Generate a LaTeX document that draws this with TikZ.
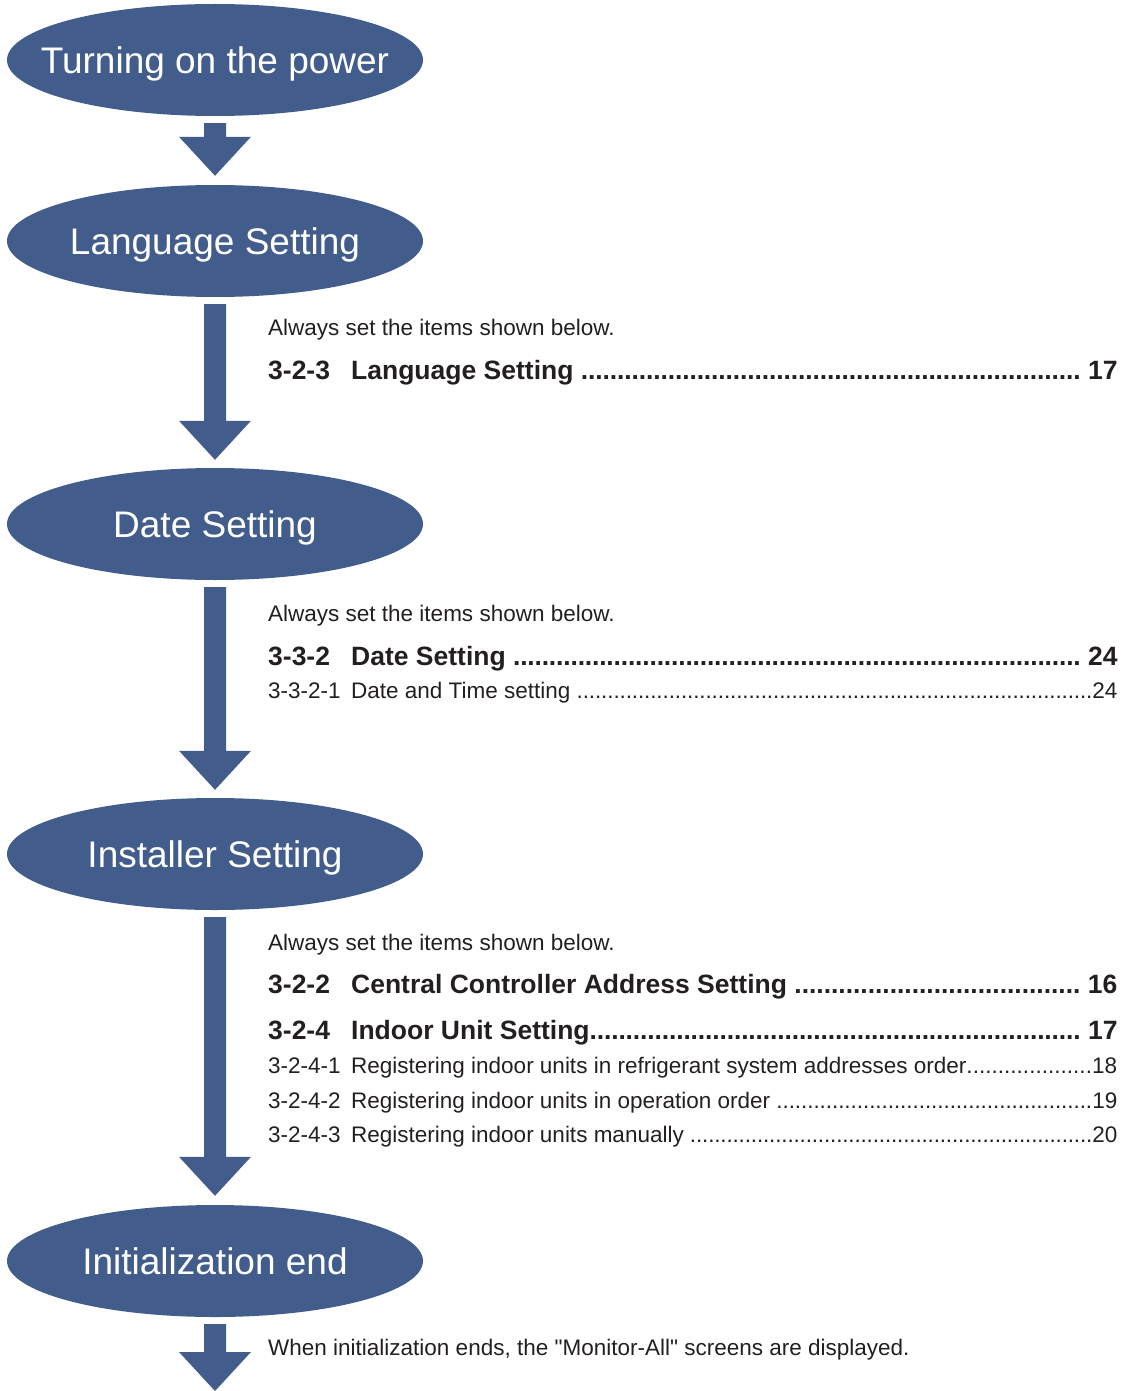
\documentclass[tikz,border=0pt]{standalone}
\usepackage{fontspec}
\setmainfont{Liberation Sans}
\usetikzlibrary{shapes.geometric}
\usetikzlibrary{calc}
\usetikzlibrary{positioning}

\definecolor{flowblue}{RGB}{66,93,139}
\definecolor{inkgray}{RGB}{35,31,32}

\newcommand{\leaderdots}{\xleaders\hbox to 0.27em{\hss.\hss}\hfill}
\newcommand{\tocrow}[3]{\hbox to 849pt{\makebox[83pt][l]{#1}#2\leaderdots#3}}
\newcommand{\stagetext}[1]{\makebox[0pt]{#1}}
\newcommand{\flowarrow}[2]{%
  \fill[flowblue] let \p1=(#1), \p2=(#2) in
    (\x1-11pt,\y1) -- (\x1+11pt,\y1) -- (\x1+11pt,\y2+39pt) -- (\x1+36pt,\y2+39pt)
    -- (\x1,\y2) -- (\x1-36pt,\y2+39pt) -- (\x1-11pt,\y2+39pt) -- cycle;}

\tikzset{
  stage/.style={ellipse, fill=flowblue, text=white, minimum width=416pt,
    minimum height=112pt, inner sep=0pt, text height=26.5pt, text depth=0pt,
    font=\fontsize{37}{40}\selectfont},
  note/.style={anchor=base west, inner sep=0pt, text=inkgray,
    font=\fontsize{22.5}{26}\selectfont},
  mainitem/.style={note, font=\fontsize{26.5}{30}\selectfont\bfseries},
  subitem/.style={note}
}

\begin{document}
\begin{tikzpicture}
    \useasboundingbox (0,0) rectangle (1131pt,-1391pt);

    % Stages
    \node[stage] (power) at (215pt,-60pt) {\stagetext{Turning on the power}};
    \node[stage] (lang) at (215pt,-241pt) {\stagetext{Language Setting}};
    \node[stage] (date) at (215pt,-524pt) {\stagetext{Date Setting}};
    \node[stage] (inst) at (215pt,-854pt) {\stagetext{Installer Setting}};
    \node[stage] (initend) at (215pt,-1261pt) {\stagetext{Initialization end}};
    \coordinate (flowend) at (215pt,-1391pt);

    % Arrows
    \flowarrow{[yshift=-7pt]power.south}{[yshift=9pt]lang.north}
    \flowarrow{[yshift=-7pt]lang.south}{[yshift=8pt]date.north}
    \flowarrow{[yshift=-7pt]date.south}{[yshift=8pt]inst.north}
    \flowarrow{[yshift=-7pt]inst.south}{[yshift=9pt]initend.north}
    \flowarrow{[yshift=-7pt]initend.south}{flowend}

    % Language Setting
    \node[note] (langnote) at (268pt,-335pt) {Always set the items shown below.};
    \node[mainitem] (langitem) at (268pt,-379pt) {\tocrow{3-2-3}{Language Setting\ }{\ 17}};

    % Date Setting
    \node[note] (datenote) at (268pt,-621pt) {Always set the items shown below.};
    \node[mainitem] (dateitem) at (268pt,-665pt) {\tocrow{3-3-2}{Date Setting\ }{\ 24}};
    \node[subitem] (datesub) at (268pt,-698pt) {\tocrow{3-3-2-1}{Date and Time setting\ }{24}};

    % Installer Setting
    \node[note] (instnote) at (268pt,-950pt) {Always set the items shown below.};
    \node[mainitem] (institem) at (268pt,-993pt) {\tocrow{3-2-2}{Central Controller Address Setting\ }{\ 16}};
    \node[mainitem] (unititem) at (268pt,-1039pt) {\tocrow{3-2-4}{Indoor Unit Setting}{\ 17}};
    \node[subitem] (unitsuba) at (268pt,-1073pt) {\tocrow{3-2-4-1}{Registering indoor units in refrigerant system addresses order}{18}};
    \node[subitem] (unitsubb) at (268pt,-1108pt) {\tocrow{3-2-4-2}{Registering indoor units in operation order\ }{19}};
    \node[subitem] (unitsubc) at (268pt,-1142pt) {\tocrow{3-2-4-3}{Registering indoor units manually\ }{20}};

    % Initialization end
    \node[note] (endnote) at (268pt,-1355pt) {When initialization ends, the \textquotedbl Monitor-All\textquotedbl\ screens are displayed.};
\end{tikzpicture}
\end{document}
